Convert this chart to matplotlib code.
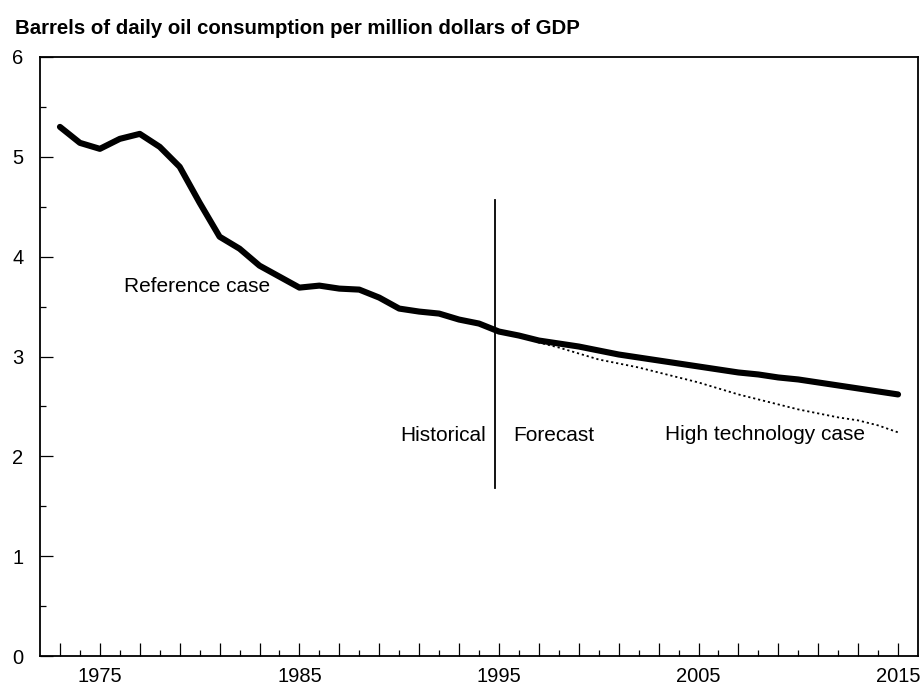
import matplotlib
matplotlib.use("Agg")
import matplotlib.pyplot as plt
from matplotlib.ticker import FixedLocator

plt.rcParams['font.family'] = ['Liberation Sans', 'DejaVu Sans']

# ---- data ----
hist_years = list(range(1973, 1996))
hist_values = [5.30, 5.14, 5.08, 5.18, 5.23, 5.10, 4.90, 4.54, 4.20, 4.08,
               3.91, 3.80, 3.69, 3.71, 3.68, 3.67, 3.59, 3.48, 3.45, 3.43,
               3.37, 3.33, 3.25]
ref_years = list(range(1995, 2016))
ref_values = [3.25, 3.21, 3.16, 3.13, 3.10, 3.06, 3.02, 2.99, 2.96, 2.93,
              2.90, 2.87, 2.84, 2.82, 2.79, 2.77, 2.74, 2.71, 2.68, 2.65, 2.62]
hitech_years = list(range(1996, 2016))
hitech_values = [3.21, 3.14, 3.09, 3.03, 2.97, 2.93, 2.89, 2.84, 2.79, 2.74,
                 2.68, 2.62, 2.57, 2.52, 2.47, 2.43, 2.39, 2.36, 2.31, 2.24]
major_x_ticks = list(range(1973, 2016, 2))
minor_x_ticks = list(range(1974, 2016, 2))
x_labels = {1975: "1975", 1985: "1985", 1995: "1995", 2005: "2005", 2015: "2015"}
y_major = [0, 1, 2, 3, 4, 5, 6]
y_minor = [0.5, 1.5, 2.5, 3.5, 4.5, 5.5]
title = "Barrels of daily oil consumption per million dollars of GDP"
divider_year = 1994.8
divider_range = (1.68, 4.57)

fig = plt.figure(figsize=(9.23, 6.87), dpi=100)
ax = fig.add_axes([40/923, 1-656/687, (918-40)/923, (656-57)/687])

ax.plot(hitech_years, hitech_values, color='black', lw=1.3, ls=(0, (1.2, 1.6)), zorder=2)
ax.plot(hist_years + ref_years[1:], hist_values + ref_values[1:], color='black',
        lw=4.4, solid_capstyle='round', solid_joinstyle='round', zorder=3)
ax.plot([divider_year, divider_year], divider_range, color='black', lw=1.3, zorder=4)

ax.set_xlim(1972.0, 2016.0)
ax.set_ylim(0, 6)

ax.xaxis.set_major_locator(FixedLocator(major_x_ticks))
ax.set_xticklabels([x_labels.get(y, "") for y in major_x_ticks])
ax.xaxis.set_minor_locator(FixedLocator(minor_x_ticks))
ax.yaxis.set_major_locator(FixedLocator(y_major))
ax.set_yticklabels([str(v) for v in y_major])
ax.yaxis.set_minor_locator(FixedLocator(y_minor))

ax.tick_params(axis='both', which='major', direction='in', length=9.5, width=0.9,
               labelsize=14.5, pad=8, color='black')
ax.tick_params(axis='both', which='minor', direction='in', length=4.3, width=0.9,
               color='black')
ax.tick_params(axis='y', which='major', pad=12)
for s in ax.spines.values():
    s.set_linewidth(1.3)

fs = 15
ax.text(1976.2, 3.70, "Reference case", fontsize=fs, ha='left', va='center')
ax.text(1994.35, 2.21, "Historical", fontsize=fs, ha='right', va='center')
ax.text(1995.7, 2.21, "Forecast", fontsize=fs, ha='left', va='center')
ax.text(2003.3, 2.22, "High technology case", fontsize=fs, ha='left', va='center')

fig.text(15/923, 1-28/687, title, fontsize=14.7, fontweight='bold', ha='left', va='center')

fig.savefig("out.png", dpi=100)
